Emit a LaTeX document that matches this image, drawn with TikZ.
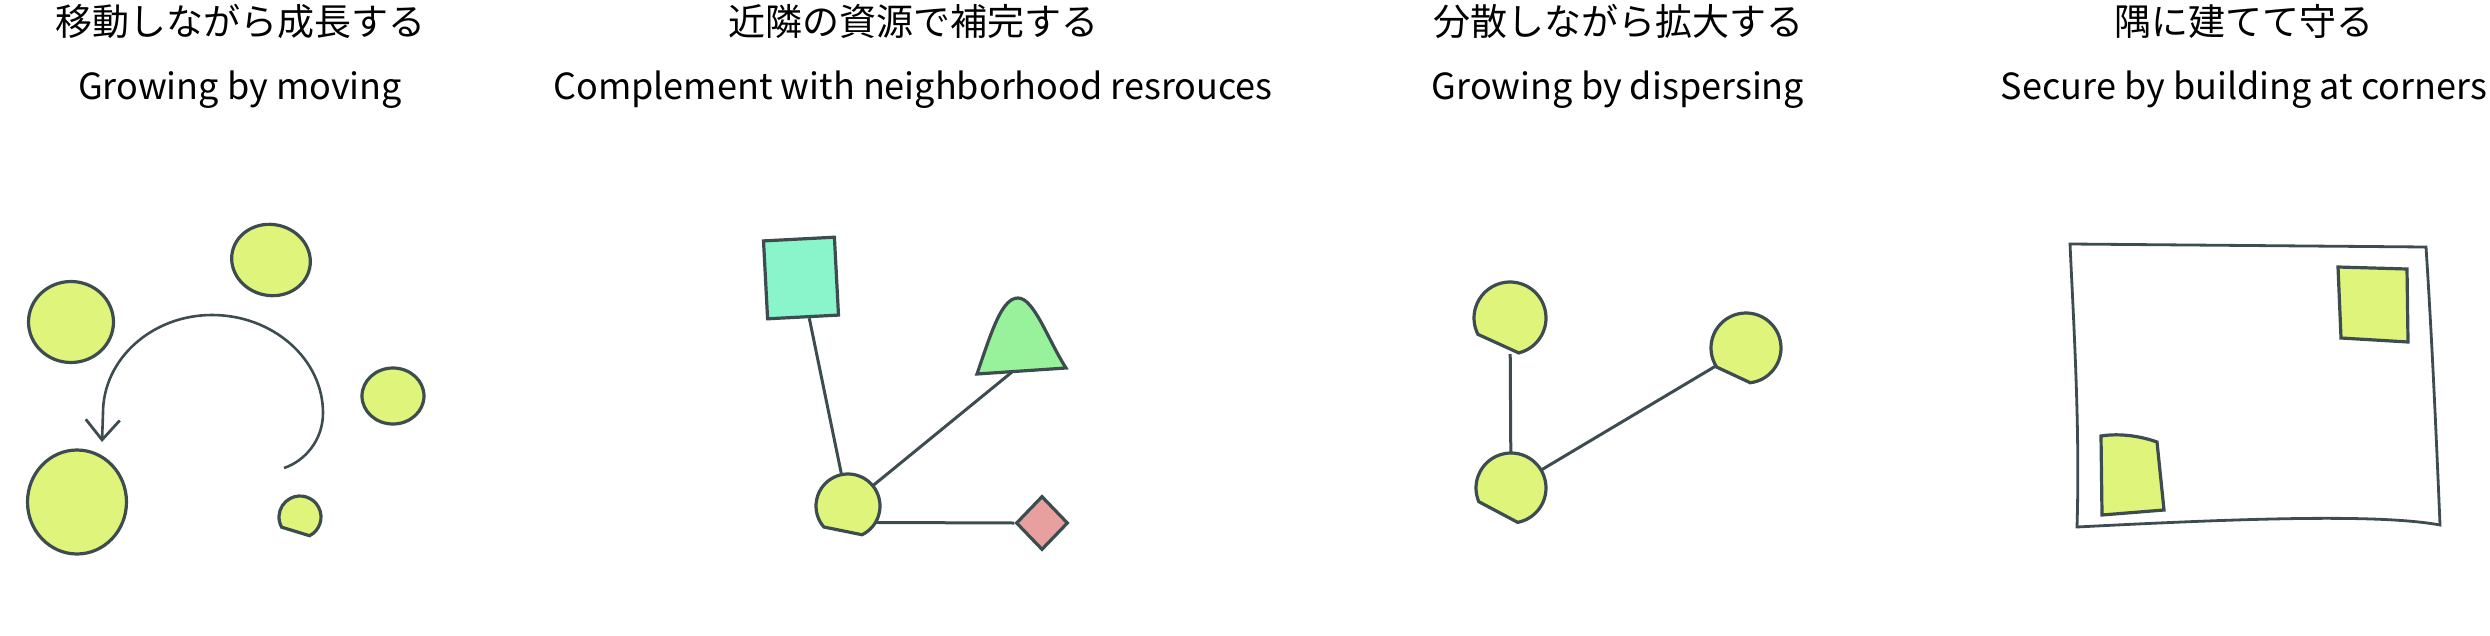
\documentclass[tikz,border=0pt]{standalone}
\usepackage{fontspec}
\setmainfont{Noto Sans CJK JP}
\usepackage{xcolor}
\definecolor{inkline}{HTML}{3D4C50}
\definecolor{blobfill}{HTML}{DFF47A}
\definecolor{sqfill}{HTML}{8AF5CA}
\definecolor{bellfill}{HTML}{97F29B}
\definecolor{diafill}{HTML}{E8A09F}
\usetikzlibrary{shapes.geometric, arrows.meta, positioning, calc}

% round blob with a flat cut: node name, radius, start angle, end angle
\newcommand{\pacblob}[4]{%
    \filldraw[blob] ($(#1)+(#3:#2)$) arc[start angle=#3, end angle=#4, radius=#2] -- cycle;}

\begin{document}
\begin{tikzpicture}[
        x=1pt, y=-1pt,
        jptitle/.style={
            font=\fontsize{37}{44}\selectfont,
            inner sep=0pt,
            anchor=base
        },
        entitle/.style={
            font=\fontsize{36}{43}\selectfont,
            inner sep=0pt,
            anchor=base
        },
        blob/.style={
            draw=inkline,
            fill=blobfill,
            line width=3.2pt
        },
        pacnode/.style={
            circle,
            inner sep=0pt,
            outer sep=0pt
        },
        conn/.style={
            draw=inkline,
            line width=3pt
        },
        swing/.style={
            draw=inkline,
            line width=2.6pt,
            -{Straight Barb[length=20pt, width=34pt, line width=2.8pt]}
        },
        plotline/.style={
            draw=inkline,
            line width=2.8pt
        }
    ]
    \useasboundingbox (0,0) rectangle (2490,635);

    % Titles
    \node[jptitle] (jp1) at (240,35) {移動しながら成長する};
    \node[jptitle] (jp2) at (913,35) {近隣の資源で補完する};
    \node[jptitle] (jp3) at (1618,35) {分散しながら拡大する};
    \node[jptitle] (jp4) at (2244,35) {隅に建てて守る};
    \node[entitle] (en1) at ($(jp1.base)+(0,64)$) {Growing by moving};
    \node[entitle] (en2) at ($(jp2.base)+(0,64)$) {Complement with neighborhood resrouces};
    \node[entitle] (en3) at ($(jp3.base)+(0,64)$) {Growing by dispersing};
    \node[entitle] (en4) at ($(jp4.base)+(0,64)$) {Secure by building at corners};

    % Moving
    \node[blob, ellipse, minimum width=85pt, minimum height=81pt] (mv1) at (71,322) {};
    \node[blob, ellipse, minimum width=79pt, minimum height=71pt, rotate=-12] (mv2) at (271,260) {};
    \node[blob, ellipse, minimum width=62pt, minimum height=56pt] (mv3) at (393,396) {};
    \node[blob, ellipse, minimum width=99pt, minimum height=104pt] (mv4) at (77,502) {};
    \node[pacnode, minimum size=42pt] (mv5) at (300,517) {};
    \pacblob{mv5}{21}{63}{-209}
    \coordinate (swingstart) at (284,468);
    \draw[swing] (swingstart) .. controls (305,461) and (323,440) .. (323,413)
        .. controls (323,359) and (273,315) .. (212,315)
        .. controls (152,315) and (103,359) .. (103,413) -- (102,442);

    % Neighborhood
    \node[pacnode, minimum size=64pt] (hub) at (848,506) {};
    \pacblob{hub}{32}{64}{-221}
    \node[rectangle, draw=inkline, fill=sqfill, line width=3.2pt, minimum width=71pt,
        minimum height=78pt, rotate=3] (res1) at (801,278) {};
    \filldraw[draw=inkline, fill=bellfill, line width=3.2pt] (977,374)
        .. controls (992,330) and (1002,298) .. (1018,298)
        .. controls (1034,298) and (1048,340) .. (1066,368) -- cycle;
    \coordinate (res2) at (1012,372);
    \node[diamond, draw=inkline, fill=diafill, line width=3.2pt, inner sep=0pt,
        minimum width=52pt, minimum height=54pt] (res3) at (1042,523) {};
    \draw[conn] (res1) -- (hub);
    \draw[conn] (hub) -- (res2);
    \draw[conn] (hub.-31) -- (res3.west);

    % Dispersing
    \node[pacnode, minimum size=72pt] (sp1) at (1510,318) {};
    \node[pacnode, minimum size=70pt] (sp2) at (1746,348) {};
    \node[pacnode, minimum size=70pt] (sp3) at (1511,488) {};
    \pacblob{sp1}{36}{76}{-207}
    \pacblob{sp2}{35}{83}{-213}
    \pacblob{sp3}{35}{79}{-203}
    \draw[conn] (sp1) -- (sp3);
    \draw[conn] (sp3) -- (sp2);

    % Corners
    \draw[plotline] (2070,244) -- (2426,247)
        .. controls (2432,340) and (2436,430) .. (2440,525)
        .. controls (2380,514) and (2250,518) .. (2077,527)
        .. controls (2080,430) and (2074,330) .. (2070,244) -- cycle;
    \filldraw[blob] (2338,267) -- (2407,269) -- (2408,342) -- (2341,338) -- cycle;
    \filldraw[blob] (2101,436) .. controls (2120,433) and (2140,436) .. (2157,442)
        -- (2164,510) -- (2102,515) -- cycle;

\end{tikzpicture}
\end{document}
